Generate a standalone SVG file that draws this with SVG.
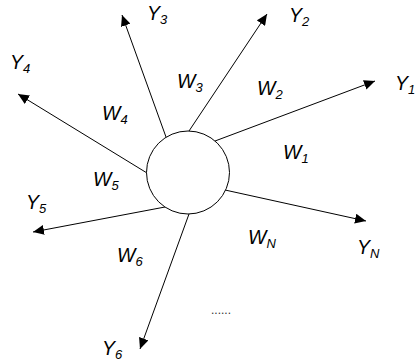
<svg xmlns="http://www.w3.org/2000/svg" width="420" height="364" viewBox="0 0 420 364">
<style>
.lbl{font-family:"Liberation Sans",Arial,sans-serif;font-style:italic;font-size:19.5px;fill:#000}
.sub{font-size:13px}
.ln{stroke:#000;stroke-width:1;fill:none}
.dots{font-family:"Liberation Sans",Arial,sans-serif;font-size:12px;fill:#333}
</style>
<defs>
<marker id="ah" markerUnits="userSpaceOnUse" markerWidth="12" markerHeight="10" refX="11" refY="5" orient="auto">
<path d="M0,0 L11,5 L0,10 Z" fill="#000"/>
</marker>
</defs>
<rect width="420" height="364" fill="#fff"/>
<g id="connectors">
<line class="ln" x1="215" y1="141" x2="375" y2="81" marker-end="url(#ah)"/>
<line class="ln" x1="189" y1="131" x2="267" y2="14" marker-end="url(#ah)"/>
<line class="ln" x1="166" y1="137" x2="122" y2="15" marker-end="url(#ah)"/>
<line class="ln" x1="147" y1="173" x2="18" y2="94" marker-end="url(#ah)"/>
<line class="ln" x1="165" y1="207" x2="33" y2="232" marker-end="url(#ah)"/>
<line class="ln" x1="189" y1="214" x2="140" y2="349" marker-end="url(#ah)"/>
<line class="ln" x1="225" y1="190" x2="366" y2="221" marker-end="url(#ah)"/>
</g>
<g id="neuron">
<circle cx="188" cy="172.5" r="41.5" fill="#fff" stroke="#000" stroke-width="1"/>
</g>
<g id="labels">
<text class="lbl" x="395" y="90">Y<tspan class="sub" dy="4">1</tspan></text>
<text class="lbl" x="289" y="22">Y<tspan class="sub" dy="4">2</tspan></text>
<text class="lbl" x="147" y="20">Y<tspan class="sub" dy="4">3</tspan></text>
<text class="lbl" x="10" y="69">Y<tspan class="sub" dy="4">4</tspan></text>
<text class="lbl" x="26" y="209">Y<tspan class="sub" dy="4">5</tspan></text>
<text class="lbl" x="102" y="355">Y<tspan class="sub" dy="4">6</tspan></text>
<text class="lbl" x="357" y="254">Y<tspan class="sub" dy="4">N</tspan></text>
<text class="lbl" x="283" y="159">W<tspan class="sub" dy="4">1</tspan></text>
<text class="lbl" x="257" y="95">W<tspan class="sub" dy="4">2</tspan></text>
<text class="lbl" x="177" y="88">W<tspan class="sub" dy="4">3</tspan></text>
<text class="lbl" x="102" y="120">W<tspan class="sub" dy="4">4</tspan></text>
<text class="lbl" x="93" y="186">W<tspan class="sub" dy="4">5</tspan></text>
<text class="lbl" x="117" y="262">W<tspan class="sub" dy="4">6</tspan></text>
<text class="lbl" x="248" y="244">W<tspan class="sub" dy="4">N</tspan></text>
<text class="dots" x="211" y="314">......</text>
</g>
</svg>
